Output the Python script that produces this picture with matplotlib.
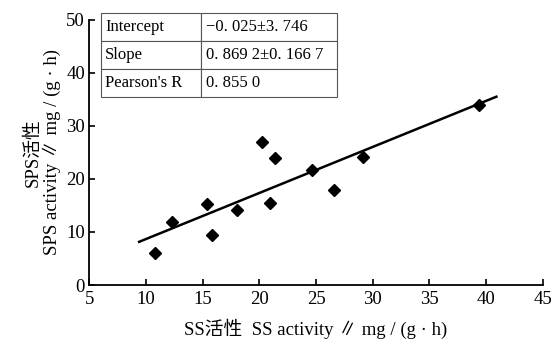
import matplotlib
matplotlib.use('Agg')
import matplotlib.pyplot as plt
import numpy as np

plt.rcParams['font.family'] = ['Liberation Serif', 'Noto Sans CJK SC', 'DejaVu Sans']

# SS activity vs SPS activity
ss_activity = [10.8, 12.3, 15.4, 15.8, 18.0, 20.2, 20.9, 21.4, 24.6, 26.6, 29.1, 39.4]
sps_activity = [6.0, 11.9, 15.3, 9.4, 14.2, 27.0, 15.5, 24.0, 21.7, 17.9, 24.2, 34.0]

intercept = -0.025
slope = 0.8692
fit_x = [9.4, 40.9]

table_rows = [
    ['Intercept', '\u22120. 025\u00b13. 746'],
    ['Slope', '0. 869 2\u00b10. 166 7'],
    ["Pearson's R", '0. 855 0'],
]


def main():
    fig = plt.figure(figsize=(5.54, 3.44), dpi=100)
    ax = fig.add_axes([0.161, 0.1715, 0.819, 0.7705])

    fx = np.array(fit_x)
    ax.plot(fx, intercept + slope * fx, color='black', lw=1.8)
    ax.plot(ss_activity, sps_activity, linestyle='none', marker='D',
            markersize=6, color='black')

    ax.set_xlim(5, 45)
    ax.set_ylim(0, 50)
    ax.set_xticks(range(5, 46, 5))
    ax.set_yticks(range(0, 51, 10))
    ax.spines['top'].set_visible(False)
    ax.spines['right'].set_visible(False)
    ax.spines['left'].set_linewidth(1.3)
    ax.spines['bottom'].set_linewidth(1.3)
    ax.tick_params(direction='in', length=4, width=1.2, labelsize=13.5)
    ax.tick_params(axis='x', pad=4)
    ax.tick_params(axis='y', pad=3)

    ax.set_xlabel('SS活性  SS activity \u2225 mg / (g \u00b7 h)', fontsize=13.5, labelpad=8)
    ax.set_ylabel('SPS活性\nSPS activity \u2225 mg / (g \u00b7 h)', fontsize=13.5,
                  labelpad=4, linespacing=1.0)

    tbl = ax.table(cellText=table_rows, cellLoc='left', colWidths=[0.424, 0.576],
                   bbox=[0.026, 0.709, 0.52, 0.317])
    tbl.auto_set_font_size(False)
    tbl.set_fontsize(12)
    for cell in tbl.get_celld().values():
        cell.set_edgecolor('#555555')
        cell.set_linewidth(0.8)
        cell.PAD = 0.04
        cell.set_clip_on(False)

    fig.savefig('out.png', dpi=100)


if __name__ == "__main__":
    main()
